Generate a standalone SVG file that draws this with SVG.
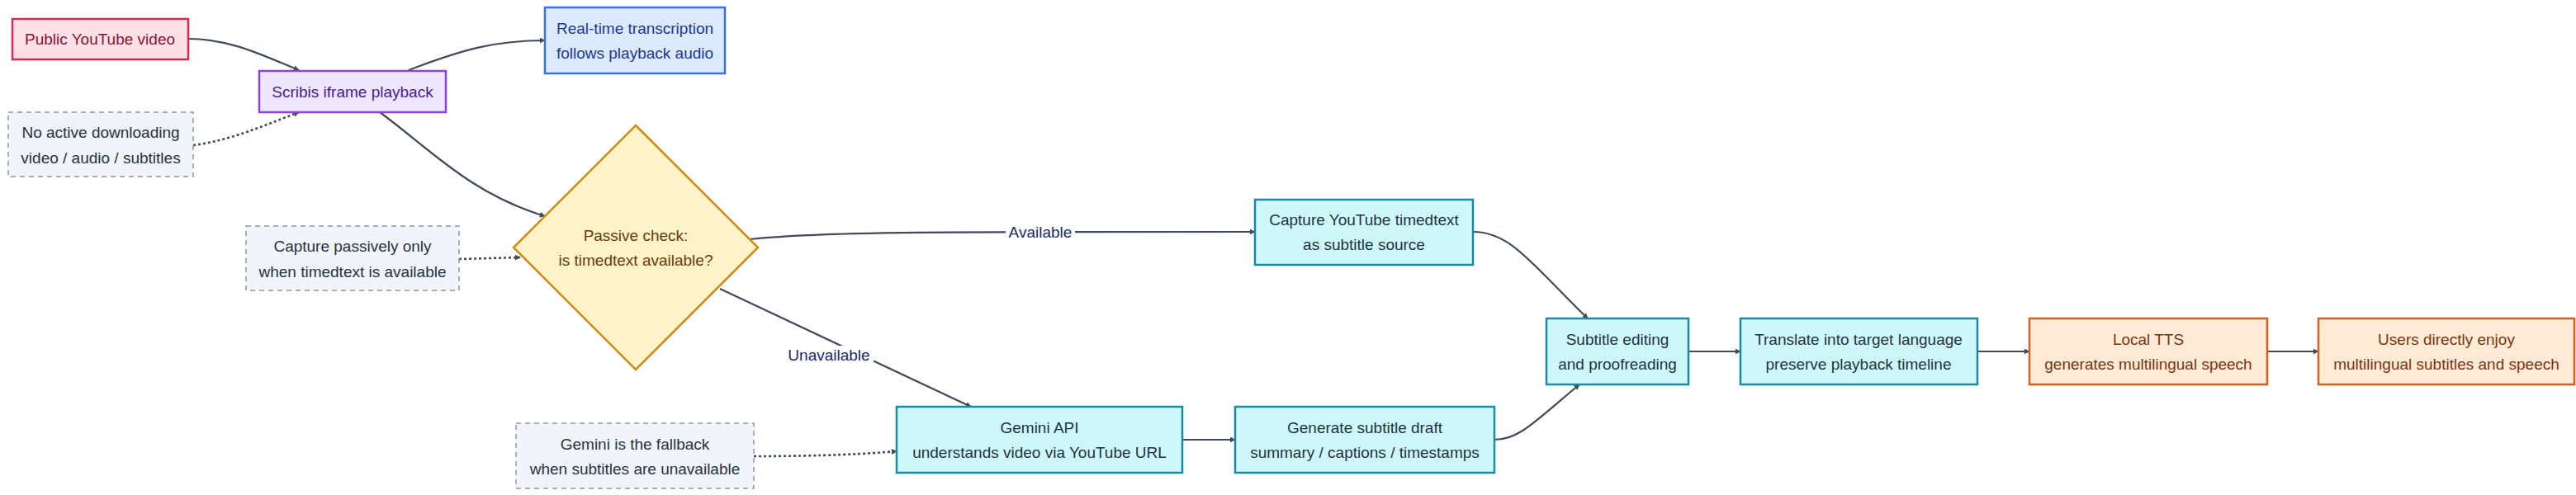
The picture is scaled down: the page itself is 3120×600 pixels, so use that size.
<svg xmlns="http://www.w3.org/2000/svg" width="3120" height="600" viewBox="0 0 3120 600">
<style>
text{font-family:"Liberation Sans",Arial,sans-serif;font-size:19px;text-anchor:middle;dominant-baseline:central}
.pink rect{fill:#ffe0e7;stroke:#d42a55;stroke-width:2.5}.pink text{fill:#8a1034}
.purple rect{fill:#efe6ff;stroke:#8b44e0;stroke-width:2.5}.purple text{fill:#4a1a8f}
.blue rect{fill:#dde9ff;stroke:#3a72e0;stroke-width:2.5}.blue text{fill:#1a3a8f}
.note rect{fill:#f1f4f8;stroke:#8a96a8;stroke-width:1.5;stroke-dasharray:6 5}.note text{fill:#263344}
.teal rect{fill:#cff8fb;stroke:#1a8ca2;stroke-width:2.5}.teal text{fill:#1c3344}
.orange rect{fill:#ffead6;stroke:#d2621c;stroke-width:2.5}.orange text{fill:#7a3410}
.dia polygon{fill:#fdf2c8;stroke:#d08a16;stroke-width:2.5}.dia text{fill:#6a3a0a}
.e{fill:none;stroke:#3f4a5a;stroke-width:2.2;marker-end:url(#a)}
.d{stroke-dasharray:3 3;stroke-width:2.6}
.lbl{fill:#1a2a6a}
</style>
<defs><marker id="a" viewBox="0 0 10 10" refX="9" refY="5" markerWidth="7" markerHeight="7" orient="auto" markerUnits="userSpaceOnUse"><path d="M0,0L10,5L0,10z" fill="#3f4a5a" transform="scale(1)"/></marker></defs>
<g id="connectors">
<path class="e" d="M228,47 C280,47 320,68 362,85"/>
<path class="e" d="M495,85 C560,60 600,49 660,49"/>
<path class="e d" d="M234,176 C280,170 320,152 362,136"/>
<path class="e" d="M460,136 C520,180 570,235 660,262"/>
<path class="e d" d="M556,314 L630,312"/>
<path class="e" d="M908,290 C1000,281 1100,281 1520,281"/>
<rect x="1218" y="270" width="84" height="22" fill="#fff"/><text class="lbl" x="1260" y="281">Available</text>
<path class="e" d="M872,350 L1176,493"/>
<rect x="950" y="419" width="108" height="22" fill="#fff"/><text class="lbl" x="1004" y="430">Unavailable</text>
<path class="e d" d="M913,553 C1000,553 1050,550 1086,547"/>
<path class="e" d="M1432,533 L1496,533"/>
<path class="e" d="M1784,281 C1830,281 1855,320 1923,386"/>
<path class="e" d="M1810,533 C1840,533 1860,510 1913,466"/>
<path class="e" d="M2045,426 L2108,426"/>
<path class="e" d="M2395,426 L2458,426"/>
<path class="e" d="M2746,426 L2808,426"/>
</g>
<g id="public" class="pink"><rect x="15" y="23" width="213" height="49"/><text x="121" y="47">Public YouTube video</text></g>
<g id="scribis" class="purple"><rect x="314" y="86" width="226" height="50"/><text x="427" y="111">Scribis iframe playback</text></g>
<g id="realtime" class="blue"><rect x="660" y="9" width="218" height="80"/><text x="769" y="34">Real-time transcription</text><text x="769" y="64">follows playback audio</text></g>
<g id="noactive" class="note"><rect x="10" y="136" width="224" height="78"/><text x="122" y="160">No active downloading</text><text x="122" y="191">video / audio / subtitles</text></g>
<g id="passive" class="note"><rect x="298" y="274" width="258" height="78"/><text x="427" y="298">Capture passively only</text><text x="427" y="329">when timedtext is available</text></g>
<g id="check" class="dia"><polygon points="770,152 918,300 770,448 622,300"/><text x="770" y="285">Passive check:</text><text x="770" y="315">is timedtext available?</text></g>
<g id="timedtext" class="teal"><rect x="1520" y="242" width="264" height="79"/><text x="1652" y="266">Capture YouTube timedtext</text><text x="1652" y="296">as subtitle source</text></g>
<g id="editing" class="teal"><rect x="1873" y="386" width="172" height="80"/><text x="1959" y="411">Subtitle editing</text><text x="1959" y="441">and proofreading</text></g>
<g id="translate" class="teal"><rect x="2108" y="386" width="287" height="80"/><text x="2251" y="411">Translate into target language</text><text x="2251" y="441">preserve playback timeline</text></g>
<g id="tts" class="orange"><rect x="2458" y="386" width="288" height="80"/><text x="2602" y="411">Local TTS</text><text x="2602" y="441">generates multilingual speech</text></g>
<g id="users" class="orange"><rect x="2808" y="386" width="310" height="80"/><text x="2963" y="411">Users directly enjoy</text><text x="2963" y="441">multilingual subtitles and speech</text></g>
<g id="gemini" class="teal"><rect x="1086" y="493" width="346" height="80"/><text x="1259" y="518">Gemini API</text><text x="1259" y="548">understands video via YouTube URL</text></g>
<g id="draft" class="teal"><rect x="1496" y="493" width="314" height="80"/><text x="1653" y="518">Generate subtitle draft</text><text x="1653" y="548">summary / captions / timestamps</text></g>
<g id="fallback" class="note"><rect x="625" y="513" width="288" height="79"/><text x="769" y="538">Gemini is the fallback</text><text x="769" y="568">when subtitles are unavailable</text></g>
</svg>
